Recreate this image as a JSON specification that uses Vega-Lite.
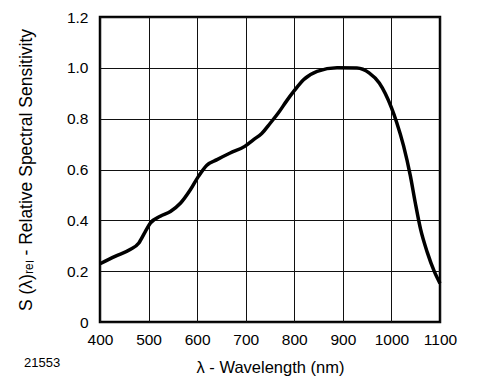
{
  "$schema": "https://vega.github.io/schema/vega-lite/v6.json",
  "width": 340,
  "height": 305,
  "autosize": {"type": "none"},
  "padding": {"left": 100, "top": 17, "right": 42, "bottom": 65},
  "background": "white",
  "config": {
    "font": "Liberation Sans",
    "view": {"stroke": "black", "strokeWidth": 2.5},
    "axis": {
      "domain": false,
      "ticks": false,
      "grid": true,
      "gridColor": "#111",
      "gridWidth": 1,
      "gridOpacity": 1,
      "labelFont": "Liberation Sans",
      "labelFontSize": 15.5,
      "labelColor": "black",
      "titleFont": "Liberation Sans",
      "titleFontSize": 16.5,
      "titleFontWeight": "normal",
      "titleColor": "black"
    }
  },
  "title": {
    "text": "21553",
    "orient": "bottom",
    "anchor": "start",
    "frame": "group",
    "dx": -76,
    "offset": -19,
    "fontSize": 13,
    "fontWeight": "normal",
    "font": "Liberation Sans",
    "color": "black"
  },
  "data": {
    "values": [
      {"wl": 400, "s": 0.229},
      {"wl": 431, "s": 0.258},
      {"wl": 462, "s": 0.285},
      {"wl": 480, "s": 0.311},
      {"wl": 493, "s": 0.355},
      {"wl": 504, "s": 0.39},
      {"wl": 524, "s": 0.416},
      {"wl": 545, "s": 0.435},
      {"wl": 566, "s": 0.468},
      {"wl": 586, "s": 0.52},
      {"wl": 603, "s": 0.574},
      {"wl": 620, "s": 0.617},
      {"wl": 641, "s": 0.639},
      {"wl": 668, "s": 0.665},
      {"wl": 698, "s": 0.691},
      {"wl": 715, "s": 0.716},
      {"wl": 733, "s": 0.742},
      {"wl": 750, "s": 0.781},
      {"wl": 767, "s": 0.822},
      {"wl": 785, "s": 0.872},
      {"wl": 800, "s": 0.91},
      {"wl": 819, "s": 0.953},
      {"wl": 847, "s": 0.986},
      {"wl": 888, "s": 1.0},
      {"wl": 929, "s": 0.999},
      {"wl": 954, "s": 0.98},
      {"wl": 975, "s": 0.94},
      {"wl": 1000, "s": 0.843},
      {"wl": 1011, "s": 0.784},
      {"wl": 1025, "s": 0.693},
      {"wl": 1039, "s": 0.575},
      {"wl": 1049, "s": 0.47},
      {"wl": 1060, "s": 0.365},
      {"wl": 1074, "s": 0.273},
      {"wl": 1088, "s": 0.2},
      {"wl": 1100, "s": 0.152}
    ]
  },
  "mark": {"type": "line", "color": "black", "strokeWidth": 3.5, "interpolate": "monotone"},
  "encoding": {
    "x": {
      "field": "wl",
      "type": "quantitative",
      "scale": {"domain": [400, 1100], "nice": false},
      "axis": {
        "values": [400, 500, 600, 700, 800, 900, 1000, 1100],
        "format": "d",
        "title": "λ - Wavelength (nm)",
        "labelPadding": 10,
        "titlePadding": 12,
        "labelFlush": false
      }
    },
    "y": {
      "field": "s",
      "type": "quantitative",
      "scale": {"domain": [0, 1.2], "nice": false},
      "axis": {
        "values": [0, 0.2, 0.4, 0.6, 0.8, 1.0, 1.2],
        "labelExpr": "datum.value == 0 ? '0' : format(datum.value, '.1f')",
        "title": "S (λ)ᵣₑₗ - Relative Spectral Sensitivity",
        "titleFontSize": 17.5,
        "labelPadding": 12,
        "titlePadding": 31,
        "labelFlush": false
      }
    }
  }
}
